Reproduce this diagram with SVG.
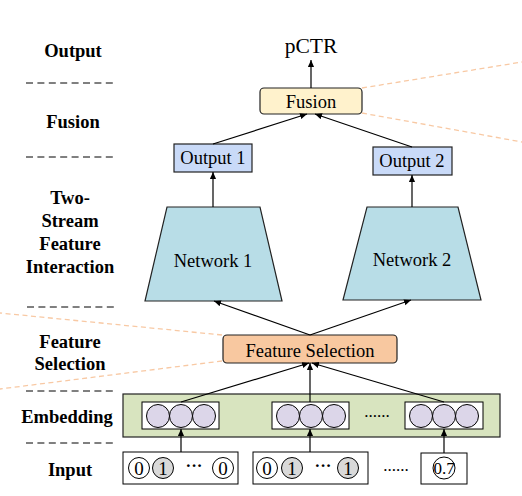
<svg xmlns="http://www.w3.org/2000/svg" width="522" height="496" viewBox="0 0 522 496">
<defs>
<marker id="ah" viewBox="0 0 8 8" refX="8" refY="4" markerWidth="7" markerHeight="7" markerUnits="userSpaceOnUse" orient="auto">
<path d="M0,0.5 L8,4 L0,7.5 Z" fill="#000"/>
</marker>
<style>
.lbl{font-family:"Liberation Serif","Times New Roman","DejaVu Serif",serif;font-weight:bold;font-size:18.5px;fill:#000;text-anchor:middle}
.t{font-family:"Liberation Serif","Times New Roman","DejaVu Serif",serif;font-size:18.5px;fill:#000;text-anchor:middle}
.n{font-family:"Liberation Serif","Times New Roman","DejaVu Serif",serif;font-size:19px;fill:#000;text-anchor:middle}
.dash{stroke:#000;stroke-width:1;stroke-dasharray:7 4.4;fill:none}
.od{stroke:#f8c9a4;stroke-width:1.3;stroke-dasharray:5 3.5;fill:none}
.c{stroke:#000;stroke-width:1.2;fill:none}
.box{stroke:#222;stroke-width:1.2}
.ec{fill:#dcd6e9;stroke:#000;stroke-width:1}
.ic{fill:#fff;stroke:#000;stroke-width:1}
.ig{fill:#d9d9d9;stroke:#000;stroke-width:1}
</style>
</defs>
<rect width="522" height="496" fill="#fff"/>

<g id="layer-labels">
<text class="lbl" x="73" y="57">Output</text>
<line class="dash" x1="26" y1="83" x2="113" y2="83"/>
<text class="lbl" x="73" y="128">Fusion</text>
<line class="dash" x1="26" y1="157" x2="113" y2="157"/>
<text class="lbl" x="70" y="204">Two-</text>
<text class="lbl" x="70" y="227">Stream</text>
<text class="lbl" x="70" y="250">Feature</text>
<text class="lbl" x="70" y="273">Interaction</text>
<line class="dash" x1="27" y1="307" x2="114" y2="307"/>
<text class="lbl" x="70" y="348">Feature</text>
<text class="lbl" x="70" y="370">Selection</text>
<line class="dash" x1="26" y1="391" x2="113" y2="391"/>
<text class="lbl" x="67" y="423">Embedding</text>
<line class="dash" x1="26" y1="443" x2="113" y2="443"/>
<text class="lbl" x="70" y="476">Input</text>
</g>

<g id="guides">
<line class="od" x1="362" y1="88" x2="522" y2="62"/>
<line class="od" x1="362" y1="113" x2="522" y2="142"/>
<line class="od" x1="222" y1="335" x2="0" y2="313"/>
<line class="od" x1="222" y1="361" x2="0" y2="389"/>
</g>

<g id="pctr">
<text class="t" x="311" y="53" style="font-size:21.5px">pCTR</text>
</g>

<g id="fusion">
<rect class="box" x="260" y="88" width="102" height="26" rx="4" fill="#fff2cc"/>
<text class="t" x="311" y="108">Fusion</text>
</g>

<g id="output1">
<rect class="box" x="174" y="144" width="78" height="28" fill="#c9daf8"/>
<text class="t" x="213" y="164">Output 1</text>
</g>

<g id="output2">
<rect class="box" x="373" y="147" width="79" height="28" fill="#c9daf8"/>
<text class="t" x="412" y="167">Output 2</text>
</g>

<g id="network1">
<path class="box" d="M167,207 L260,207 L282,301 L145,301 Z" fill="#b8dde7"/>
<text class="t" x="213" y="267">Network 1</text>
</g>

<g id="network2">
<path class="box" d="M367,207 L458,207 L481,300 L343,300 Z" fill="#b8dde7"/>
<text class="t" x="412" y="266">Network 2</text>
</g>

<g id="feature-selection">
<rect class="box" x="223" y="335" width="174" height="28" rx="4" fill="#f8c8a0"/>
<text class="t" x="310" y="357">Feature Selection</text>
</g>

<g id="embedding">
<rect x="123" y="394" width="377" height="43" fill="#d8e4bf" stroke="#222" stroke-width="1.2"/>
<rect x="142" y="402" width="77" height="27" fill="#fff" stroke="#000" stroke-width="1"/>
<circle class="ec" cx="158" cy="416" r="11.5"/>
<circle class="ec" cx="181" cy="416" r="11.5"/>
<circle class="ec" cx="204" cy="416" r="11.5"/>
<rect x="272" y="402" width="77" height="27" fill="#fff" stroke="#000" stroke-width="1"/>
<circle class="ec" cx="288" cy="416" r="11.5"/>
<circle class="ec" cx="311" cy="416" r="11.5"/>
<circle class="ec" cx="334" cy="416" r="11.5"/>
<text class="n" x="377" y="417" style="font-size:17px">......</text>
<rect x="405" y="402" width="78" height="27" fill="#fff" stroke="#000" stroke-width="1"/>
<circle class="ec" cx="421" cy="416" r="11.5"/>
<circle class="ec" cx="444" cy="416" r="11.5"/>
<circle class="ec" cx="467" cy="416" r="11.5"/>
</g>

<g id="input">
<rect x="123" y="452" width="115" height="32" fill="#fff" stroke="#000" stroke-width="1"/>
<circle class="ic" cx="139" cy="468" r="10.5"/>
<text class="n" x="139" y="474.5">0</text>
<circle class="ig" cx="163" cy="468" r="10.5"/>
<text class="n" x="163" y="474.5">1</text>
<text class="n" x="194" y="471" style="font-weight:bold;font-size:17px">···</text>
<circle class="ic" cx="223" cy="468" r="10.5"/>
<text class="n" x="223" y="474.5">0</text>
<rect x="253" y="452" width="115" height="32" fill="#fff" stroke="#000" stroke-width="1"/>
<circle class="ic" cx="267" cy="468" r="10.5"/>
<text class="n" x="267" y="474.5">0</text>
<circle class="ig" cx="292" cy="468" r="10.5"/>
<text class="n" x="292" y="474.5">1</text>
<text class="n" x="323" y="471" style="font-weight:bold;font-size:17px">···</text>
<circle class="ig" cx="348" cy="468" r="10.5"/>
<text class="n" x="348" y="474.5">1</text>
<text class="n" x="396" y="471" style="font-size:17px">......</text>
<rect x="421" y="453" width="46" height="31" fill="#fff" stroke="#000" stroke-width="1"/>
<circle class="ic" cx="444" cy="468" r="11"/>
<text class="n" x="444" y="474" style="font-size:17px">0.7</text>
</g>

<g id="connectors">
<line class="c" x1="311" y1="88" x2="311" y2="60" marker-end="url(#ah)"/>
<line class="c" x1="213" y1="144" x2="307" y2="114" marker-end="url(#ah)"/>
<line class="c" x1="412" y1="147" x2="315" y2="114" marker-end="url(#ah)"/>
<line class="c" x1="213" y1="207" x2="213" y2="172" marker-end="url(#ah)"/>
<line class="c" x1="412" y1="207" x2="412" y2="175" marker-end="url(#ah)"/>
<line class="c" x1="310" y1="335" x2="214" y2="301" marker-end="url(#ah)"/>
<line class="c" x1="310" y1="335" x2="411" y2="300" marker-end="url(#ah)"/>
<line class="c" x1="181" y1="402" x2="309" y2="363" marker-end="url(#ah)"/>
<line class="c" x1="310" y1="402" x2="310" y2="363" marker-end="url(#ah)"/>
<line class="c" x1="444" y1="402" x2="312" y2="363" marker-end="url(#ah)"/>
<line class="c" x1="181" y1="452" x2="181" y2="429" marker-end="url(#ah)"/>
<line class="c" x1="310" y1="452" x2="310" y2="429" marker-end="url(#ah)"/>
<line class="c" x1="444" y1="453" x2="444" y2="429" marker-end="url(#ah)"/>
</g>
</svg>
